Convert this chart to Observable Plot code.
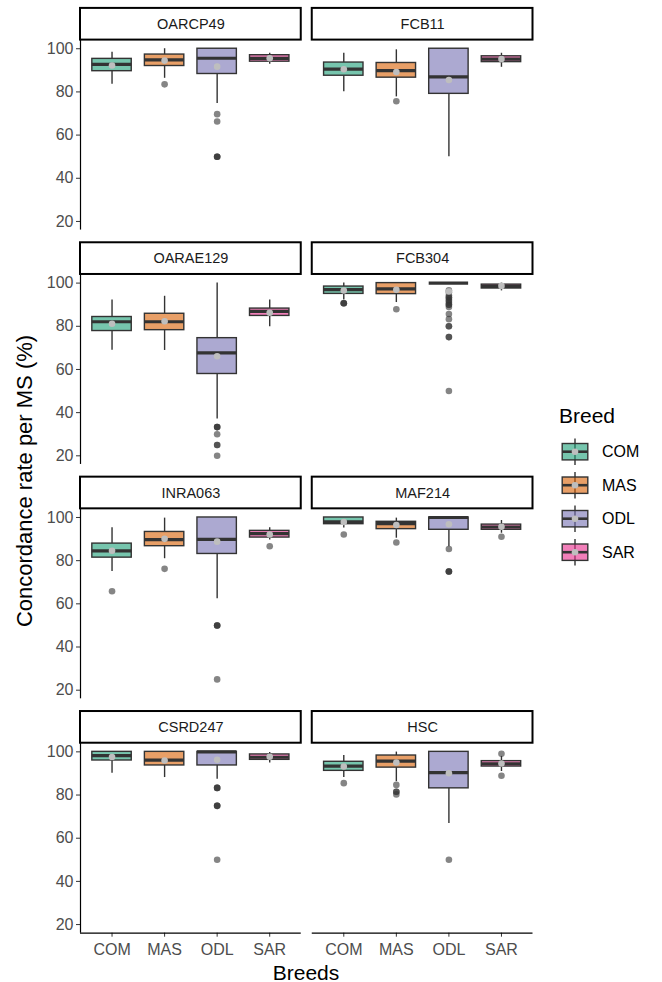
<!DOCTYPE html>
<html>
<head>
<meta charset="utf-8">
<script src="https://cdn.jsdelivr.net/npm/d3@7"></script>
<script src="https://cdn.jsdelivr.net/npm/@observablehq/plot@0.6"></script>
<style>
  body { margin: 0; background: #fff; }
  #chart { position: relative; width: 662px; height: 982px; }
  #chart svg [aria-label*="axis"] text { fill: #4D4D4D; }
</style>
</head>
<body>
<div id="chart"></div>
<script>
// ---------------- data ----------------
const markers = ["OARCP49", "FCB11", "OARAE129", "FCB304", "INRA063", "MAF214", "CSRD247", "HSC"];
const breeds = ["COM", "MAS", "ODL", "SAR"];
const breedColors = ["#1B9E77", "#D95F02", "#7570B3", "#E7298A"];
const yTicks = [20, 40, 60, 80, 100];

// per marker (rows) x breed (COM, MAS, ODL, SAR)
const lowerWhisker = [
  [83.6, 86.3, 74.6, 92.8],
  [80.1, 77.7, 50.0, 91.4],
  [68.9, 68.8, 37.1, 79.8],
  [92.2, 91.0, 100, 96.4],
  [75.0, 80.9, 62.3, 89.6],
  [95.1, 90.4, 86.5, 92.7],
  [90.1, 88.1, 87.3, 94.8],
  [88.1, 86.2, 66.8, 90.9]
];
const q1 = [
  [89.6, 92.0, 88.3, 94.0],
  [87.5, 86.6, 79.1, 93.8],
  [77.8, 78.2, 57.9, 84.8],
  [95.0, 94.9, 100, 97.5],
  [81.4, 86.7, 83.1, 90.7],
  [96.9, 94.6, 94.3, 94.3],
  [96.0, 93.7, 93.7, 96.3],
  [91.2, 92.7, 83.1, 93.2]
];
const median = [
  [92.8, 94.8, 95.6, 95.5],
  [90.6, 89.9, 87.0, 95.2],
  [82.1, 82.1, 67.7, 86.9],
  [97.0, 97.3, 100, 98.5],
  [84.5, 89.7, 89.9, 92.5],
  [98.0, 97.2, 100, 95.6],
  [98.3, 96.2, 100, 97.5],
  [93.4, 95.7, 90.4, 94.5]
];
const q3 = [
  [95.3, 97.3, 100, 97.0],
  [93.6, 93.4, 100, 96.5],
  [84.3, 85.8, 74.5, 88.2],
  [98.4, 100, 100, 99.3],
  [87.9, 93.3, 100, 93.8],
  [100, 98.0, 100, 96.7],
  [100, 100, 100, 98.8],
  [95.4, 98.3, 100, 95.7]
];
const upperWhisker = [
  [98.4, 100, 100, 97.9],
  [97.9, 99.5, 100, 97.9],
  [92.2, 93.9, 100, 92.2],
  [100, 100, 100, 100],
  [95.2, 99.7, 100, 95.3],
  [100, 99.7, 100, 98.6],
  [100, 100, 100, 99.7],
  [98.3, 99.9, 100, 97.9]
];
const meanValue = [
  [92.2, 94.5, 91.7, 95.6],
  [90.5, 89.2, 85.5, 95.2],
  [81.2, 82.3, 66.1, 86.3],
  [96.6, 96.9, 96.1, 98.7],
  [84.6, 90.1, 88.8, 92.1],
  [97.9, 96.5, 96.9, 95.7],
  [97.6, 96.0, 96.3, 97.7],
  [93.2, 95.1, 90.1, 94.6]
];
// outliers: [marker, breed, value]
const outliers = [
  ["OARCP49", "MAS", 83.5],
  ["OARCP49", "ODL", 69.7], ["OARCP49", "ODL", 66.3],
  ["OARCP49", "ODL", 50], ["OARCP49", "ODL", 50], ["OARCP49", "ODL", 50],
  ["FCB11", "MAS", 75.7],
  ["OARAE129", "ODL", 33.3], ["OARAE129", "ODL", 33.3], ["OARAE129", "ODL", 33.3],
  ["OARAE129", "ODL", 30], ["OARAE129", "ODL", 25], ["OARAE129", "ODL", 25],
  ["OARAE129", "ODL", 20],
  ["FCB304", "COM", 90.7], ["FCB304", "COM", 90.7], ["FCB304", "COM", 90.7],
  ["FCB304", "MAS", 87.9],
  ["FCB304", "ODL", 96.7], ["FCB304", "ODL", 95.8], ["FCB304", "ODL", 94.4],
  ["FCB304", "ODL", 93.3], ["FCB304", "ODL", 93.3], ["FCB304", "ODL", 92.3],
  ["FCB304", "ODL", 91.7], ["FCB304", "ODL", 90.9], ["FCB304", "ODL", 90],
  ["FCB304", "ODL", 90], ["FCB304", "ODL", 88.9], ["FCB304", "ODL", 85.7],
  ["FCB304", "ODL", 83.3], ["FCB304", "ODL", 80], ["FCB304", "ODL", 80],
  ["FCB304", "ODL", 75], ["FCB304", "ODL", 75], ["FCB304", "ODL", 50],
  ["INRA063", "COM", 65.8],
  ["INRA063", "MAS", 76.2],
  ["INRA063", "ODL", 50], ["INRA063", "ODL", 50], ["INRA063", "ODL", 50],
  ["INRA063", "ODL", 25],
  ["INRA063", "SAR", 86.7],
  ["MAF214", "COM", 92.1],
  ["MAF214", "MAS", 88.4],
  ["MAF214", "ODL", 85.4],
  ["MAF214", "ODL", 75], ["MAF214", "ODL", 75], ["MAF214", "ODL", 75],
  ["MAF214", "SAR", 91.1],
  ["CSRD247", "ODL", 83.3], ["CSRD247", "ODL", 83.3], ["CSRD247", "ODL", 83.3],
  ["CSRD247", "ODL", 75], ["CSRD247", "ODL", 75], ["CSRD247", "ODL", 75],
  ["CSRD247", "ODL", 50],
  ["HSC", "COM", 85.5],
  ["HSC", "MAS", 84.7], ["HSC", "MAS", 81.5], ["HSC", "MAS", 81.5], ["HSC", "MAS", 80.3],
  ["HSC", "ODL", 50],
  ["HSC", "SAR", 99.1], ["HSC", "SAR", 88.9]
];

// ---------------- layout constants ----------------
const W = 662, H = 982;
const xDomain = [0.4, 4.6];
const yDomain = [16, 104];
const boxHalf = 0.375;
const panelPx = 190, stripPx = 31.7;
const stripUnits = stripPx * (yDomain[1] - yDomain[0]) / panelPx;
const ncol = 2;

// ---------------- build tables ----------------
const rows = [];
markers.forEach((m, i) => {
  breeds.forEach((b, j) => {
    rows.push({
      marker: m, breed: b, col: i % ncol, row: Math.floor(i / ncol), xi: j + 1,
      lo: lowerWhisker[i][j], q1: q1[i][j], med: median[i][j], q3: q3[i][j],
      hi: upperWhisker[i][j], mean: meanValue[i][j]
    });
  });
});
const outRows = outliers.map(([m, b, v]) => {
  const i = markers.indexOf(m);
  return { marker: m, breed: b, col: i % ncol, row: Math.floor(i / ncol), xi: breeds.indexOf(b) + 1, value: v };
});
const panels = markers.map((m, i) => ({ marker: m, col: i % ncol, row: Math.floor(i / ncol) }));
const leftPanels = panels.filter(d => d.col === 0);
const bottomPanels = panels.filter(d => d.row === Math.floor((markers.length - 1) / ncol));

const dark = "#333333";
const font = "'Liberation Sans', Arial, sans-serif";

const plot = Plot.plot({
  width: W,
  height: H,
  marginLeft: 80,
  marginRight: 129.5,
  marginTop: 39.6,
  marginBottom: 49.3,
  style: { fontFamily: font, fontSize: "16px", background: "white", color: dark, overflow: "visible" },
  fx: { domain: [0, 1], axis: null, paddingInner: 11 / 231.75, paddingOuter: 0, round: false },
  fy: { domain: [0, 1, 2, 3], axis: null, paddingInner: 44.4 / 234.4, paddingOuter: 0, round: false },
  x: { domain: xDomain, ticks: [1, 2, 3, 4], tickFormat: d => breeds[d - 1], tickSize: 4, tickPadding: 6, label: null },
  y: { domain: yDomain, ticks: yTicks, tickSize: 4, tickPadding: 3, label: null },
  color: { domain: breeds, range: breedColors },
  marks: [
    // strips
    Plot.rect(panels, { x1: xDomain[0], x2: xDomain[1], y1: yDomain[1], y2: yDomain[1] + stripUnits, fx: "col", fy: "row", fill: "white", stroke: "black", strokeWidth: 2 }),
    Plot.text(panels, { x: (xDomain[0] + xDomain[1]) / 2, y: yDomain[1] + stripUnits / 2, text: "marker", fx: "col", fy: "row", fill: "#1A1A1A", fontSize: 14.5 }),
    // axis lines
    Plot.ruleX(leftPanels, { x: xDomain[0], y1: yDomain[0], y2: yDomain[1], fx: "col", fy: "row", stroke: "black", strokeWidth: 1.2 }),
    Plot.ruleY(bottomPanels, { y: yDomain[0], x1: xDomain[0], x2: xDomain[1], fx: "col", fy: "row", stroke: "black", strokeWidth: 1.2 }),
    // whiskers
    Plot.ruleX(rows, { x: "xi", y1: "lo", y2: "q1", fx: "col", fy: "row", stroke: dark, strokeWidth: 1.4 }),
    Plot.ruleX(rows, { x: "xi", y1: "q3", y2: "hi", fx: "col", fy: "row", stroke: dark, strokeWidth: 1.4 }),
    // boxes
    Plot.rect(rows, { x1: d => d.xi - boxHalf, x2: d => d.xi + boxHalf, y1: "q1", y2: "q3", fx: "col", fy: "row", fill: "breed", fillOpacity: 0.6, stroke: dark, strokeWidth: 1.4 }),
    // medians
    Plot.ruleY(rows, { y: "med", x1: d => d.xi - boxHalf, x2: d => d.xi + boxHalf, fx: "col", fy: "row", stroke: dark, strokeWidth: 3.2 }),
    // outliers
    Plot.dot(outRows, { x: "xi", y: "value", fx: "col", fy: "row", r: 3.3, fill: dark, fillOpacity: 0.6, stroke: "none" }),
    // means
    Plot.dot(rows, { x: "xi", y: "mean", fx: "col", fy: "row", r: 3.3, fill: "#BEBEBE", stroke: "none" })
  ]
});

document.getElementById("chart").appendChild(plot);

// ---------------- titles & legend ----------------
const svg = d3.select(plot);
svg.append("text")
  .attr("transform", "translate(24,481) rotate(-90)")
  .attr("text-anchor", "middle").attr("dominant-baseline", "central")
  .attr("font-family", font).attr("font-size", 22).attr("fill", "black")
  .text("Concordance rate per MS (%)");
svg.append("text")
  .attr("x", 306).attr("y", 972)
  .attr("text-anchor", "middle").attr("dominant-baseline", "central")
  .attr("font-family", font).attr("font-size", 21).attr("fill", "black")
  .text("Breeds");

const lg = svg.append("g");
lg.append("text").attr("x", 559).attr("y", 423).attr("text-anchor", "start")
  .attr("font-family", font).attr("font-size", 21).attr("fill", "black").text("Breed");
breeds.forEach((b, i) => {
  const cy = 451.7 + i * 33.5, cx = 575;
  const g = lg.append("g");
  g.append("line").attr("x1", cx).attr("x2", cx).attr("y1", cy - 13.2).attr("y2", cy + 13.2)
    .attr("stroke", dark).attr("stroke-width", 1.4);
  g.append("rect").attr("x", cx - 12.8).attr("y", cy - 8.2).attr("width", 25.6).attr("height", 16.4)
    .attr("fill", breedColors[i]).attr("fill-opacity", 0.6).attr("stroke", dark).attr("stroke-width", 1.4);
  g.append("line").attr("x1", cx - 12.8).attr("x2", cx + 12.8).attr("y1", cy).attr("y2", cy)
    .attr("stroke", dark).attr("stroke-width", 2.6);
  g.append("circle").attr("cx", cx).attr("cy", cy).attr("r", 3.3).attr("fill", "#BEBEBE");
  g.append("text").attr("x", 602).attr("y", cy).attr("text-anchor", "start").attr("dominant-baseline", "central")
    .attr("font-family", font).attr("font-size", 16).attr("fill", "black").text(b);
});
</script>
</body>
</html>
